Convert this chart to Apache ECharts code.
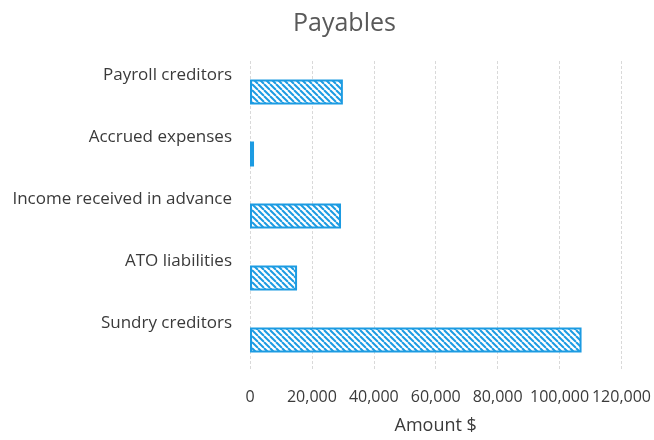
<!DOCTYPE html>
<html>
<head>
<meta charset="utf-8">
<script src="https://cdn.jsdelivr.net/npm/echarts@6/dist/echarts.min.js"></script>
<style>
  html, body { margin: 0; padding: 0; background: #fff; }
  #chart { width: 654px; height: 440px; }
</style>
</head>
<body>
<div id="chart"></div>
<script>
var categories = ["Payroll creditors", "Accrued expenses", "Income received in advance", "ATO liabilities", "Sundry creditors"];
var amounts = [30000, 1300, 29400, 15200, 107100];
var axisTicks = [0, 20000, 40000, 60000, 80000, 100000, 120000];

var blue = "#1c9be2";

// hatched fill, lines going down to the right
function hatch() {
  var s = 6;
  var c = document.createElement("canvas");
  c.width = s;
  c.height = s;
  var ctx = c.getContext("2d");
  ctx.fillStyle = "#fff";
  ctx.fillRect(0, 0, s, s);
  ctx.strokeStyle = blue;
  ctx.lineWidth = 2;
  for (var k = -1; k <= 1; k++) {
    ctx.beginPath();
    ctx.moveTo(k * s, 0);
    ctx.lineTo(k * s + s, s);
    ctx.stroke();
  }
  return c;
}

var font = "'Open Sans', sans-serif";
var myChart = echarts.init(document.getElementById("chart"));
var option = {
  animation: false,
  title: {
    text: "Payables",
    left: 288,
    top: 6,
    textStyle: { fontFamily: font, fontSize: 25, fontWeight: "normal", color: "#595959" }
  },
  grid: { left: 250, right: 32, top: 61, bottom: 68 },
  xAxis: {
    type: "value",
    min: axisTicks[0],
    max: axisTicks[axisTicks.length - 1],
    interval: axisTicks[1] - axisTicks[0],
    name: "Amount $",
    nameLocation: "middle",
    nameGap: 46,
    nameTextStyle: { fontFamily: font, fontSize: 18, color: "#3a3a3a" },
    axisLine: { show: false },
    axisTick: { show: false },
    axisLabel: {
      margin: 18,
      fontFamily: font,
      fontSize: 16,
      color: "#3a3a3a",
      formatter: function (v) { return v.toLocaleString("en-US"); }
    },
    splitLine: { show: true, lineStyle: { color: "#d9d9d9", type: [3, 2], width: 1 } }
  },
  yAxis: {
    type: "category",
    data: categories,
    inverse: true,
    axisLine: { show: false },
    axisTick: { show: false },
    axisLabel: {
      margin: 18,
      fontFamily: font,
      fontSize: 17,
      color: "#3a3a3a",
      verticalAlign: "bottom",
      lineHeight: 34
    }
  },
  series: [
    {
      type: "bar",
      data: amounts,
      barCategoryGap: "60%",
      itemStyle: {
        color: { image: hatch(), repeat: "repeat" },
        borderColor: blue,
        borderWidth: 2
      }
    }
  ]
};
myChart.setOption(option);
</script>
</body>
</html>
